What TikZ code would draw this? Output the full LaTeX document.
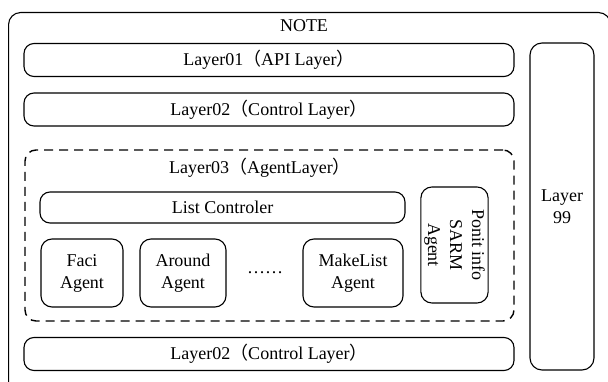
\documentclass[tikz,border=0pt]{standalone}
\usepackage{fontspec}
\setmainfont{Liberation Serif}
\newfontfamily\cjk{Noto Sans CJK SC}
\usetikzlibrary{positioning}

\tikzset{
  layerbox/.style={draw, rectangle, rounded corners=10pt, line width=1.1pt, minimum width=490pt, minimum height=33pt},
  agentbox/.style={draw, rectangle, rounded corners=11pt, line width=1.1pt, minimum height=68pt, align=center}
}

\begin{document}
\begin{tikzpicture}[x=1pt, y=-1pt, font=\fontsize{18}{22}\selectfont]
  \path[use as bounding box, clip] (0,0) rectangle (608,382);

  % outer frame
  \node (note) [draw, rectangle, rounded corners=12pt, line width=1.1pt, minimum width=602pt, minimum height=382pt, anchor=north west] at (8,12) {};
  \node (title) at (304,26) {NOTE};

  \node (l01) [layerbox] at (269,60) {Layer01{\cjk（}API Layer{\cjk）}};
  \node (l02) [layerbox] at (269,109.5) {Layer02{\cjk（}Control Layer{\cjk）}};

  % agent layer
  \node (l03) [draw, rectangle, dashed, dash pattern=on 9pt off 6pt, rounded corners=11pt, line width=1.4pt, minimum width=489pt, minimum height=171pt] at (269.5,235.5) {};
  \node (l03title) at (260,168) {Layer03{\cjk（}AgentLayer{\cjk）}};

  \node (ctrl) [layerbox, minimum width=365pt, minimum height=31pt] at (222.5,207.5) {List Controler};
  \node (faci) [agentbox, minimum width=82pt] at (82,273) {Faci\\Agent};
  \node (around) [agentbox, minimum width=86pt] at (183,273) {Around\\Agent};
  \node (dots) at (265,273) {……};
  \node (makelist) [agentbox, minimum width=100pt] at (353,273) {MakeList\\Agent};
  \node (ponit) [agentbox, rotate=-90, minimum width=116pt, minimum height=65pt] at (454.5,245) {Ponit info\\SARM\\Agent};

  \node (l02b) [layerbox] at (269,354) {Layer02{\cjk（}Control Layer{\cjk）}};

  \node (l99) [draw, rectangle, rounded corners=12pt, line width=1.1pt, minimum width=64pt, minimum height=327pt, align=center] at (562,206.5) {Layer\\99};
\end{tikzpicture}
\end{document}
